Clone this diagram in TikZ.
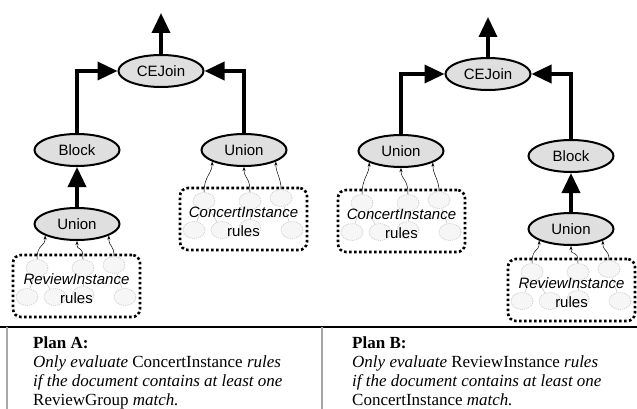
\documentclass[tikz,border=0pt]{standalone}
\usepackage{fontspec}
\setmainfont{Liberation Serif}
\setsansfont{Liberation Sans}
\usepackage{tikz}
\usetikzlibrary{positioning, shapes.geometric, arrows.meta}
\tikzset{
    op/.style={ellipse, draw=black, fill=gray!25, line width=2pt, minimum width=85pt, minimum height=32pt, inner sep=0pt, font=\sffamily\fontsize{15}{18}\selectfont},
    rulesframe/.style={rectangle, draw=black, rounded corners=8pt, line width=2.6pt, dash pattern=on 2.6pt off 2.4pt, minimum width=127pt, minimum height=62pt},
    rulenode/.style={ellipse, draw=gray!45, fill=gray!7, line width=0.6pt, dash pattern=on 1pt off 1pt, minimum width=22pt, minimum height=17pt, inner sep=0pt},
    ruleedge/.style={draw=gray!45, line width=0.6pt},
    rulelabel/.style={font=\sffamily\fontsize{15}{18}\selectfont, inner sep=0pt},
    flow/.style={line width=3.5pt, -{Triangle[length=20pt,width=18pt]}},
    feed/.style={line width=0.5pt, -{Stealth[length=4pt,width=3pt]}},
    plantext/.style={align=left, inner sep=0pt, font=\fontsize{17}{19}\selectfont},
    divider/.style={draw=gray!70, line width=1.5pt},
}
% one dotted group of rules: name, left, top, label
\newcommand{\rulegroup}[4]{%
    \begin{scope}[shift={(#2,#3)}]
        \node [rulesframe] (#1) at (63.5,31) {};
        \node [rulenode] (#1t1) at (24,13) {};
        \node [rulenode] (#1t2) at (70,13) {};
        \node [rulenode] (#1t3) at (101,10) {};
        \node [rulenode] (#1b1) at (14,42) {};
        \node [rulenode] (#1b2) at (42,42) {};
        \node [rulenode] (#1b3) at (70,40) {};
        \node [rulenode] (#1b4) at (112,42) {};
        \draw[ruleedge] (#1t1) -- (#1b1);
        \draw[ruleedge] (#1t1) -- (#1b2);
        \draw[ruleedge] (#1t2) -- (#1b3);
        \draw[ruleedge] (#1t3) -- (#1b4);
        \node [rulelabel] (#1name) at (63.5,24) {\itshape #4};
        \node [rulelabel] (#1rules) at (63.5,43) {rules};
    \end{scope}}

\begin{document}
\begin{tikzpicture}[x=1pt, y=-1pt]
    \useasboundingbox (0,0) rectangle (637,409);

    % Plan A
    \node [op] (joinA) at (161,71) {CEJoin};
    \node [op] (blockA) at (77,150) {Block};
    \node [op] (cunionA) at (244,150) {Union};
    \node [op] (runionA) at (77,224) {Union};
    \coordinate (outA) at (161,13);
    \rulegroup{crulesA}{180}{188}{ConcertInstance}
    \rulegroup{rrulesA}{13}{255}{ReviewInstance}
    \draw[flow] (joinA.north) -- (outA);
    \draw[flow] (blockA.north) |- (joinA.west);
    \draw[flow] (cunionA.north) |- (joinA.east);
    \draw[flow] (runionA.north) -- (blockA.south);
    \draw[feed] (crulesAt1.north) .. controls +(0,-16) and +(0,12) .. (cunionA.200);
    \draw[feed] (crulesAt2.north) .. controls +(0,-16) and +(0,12) .. (cunionA.south);
    \draw[feed] (crulesAt3.north) .. controls +(0,-12) and +(0,12) .. (cunionA.340);
    \draw[feed] (rrulesAt1.north) .. controls +(0,-16) and +(0,12) .. (runionA.200);
    \draw[feed] (rrulesAt2.north) .. controls +(0,-16) and +(0,12) .. (runionA.south);
    \draw[feed] (rrulesAt3.north) .. controls +(0,-12) and +(0,12) .. (runionA.340);

    % Plan B
    \node [op] (joinB) at (488,74) {CEJoin};
    \node [op] (cunionB) at (401,151) {Union};
    \node [op] (blockB) at (571,156) {Block};
    \node [op] (runionB) at (571,229) {Union};
    \coordinate (outB) at (488,17);
    \rulegroup{crulesB}{338}{190}{ConcertInstance}
    \rulegroup{rrulesB}{508}{259}{ReviewInstance}
    \draw[flow] (joinB.north) -- (outB);
    \draw[flow] (cunionB.north) |- (joinB.west);
    \draw[flow] (blockB.north) |- (joinB.east);
    \draw[flow] (runionB.north) -- (blockB.south);
    \draw[feed] (crulesBt1.north) .. controls +(0,-16) and +(0,12) .. (cunionB.200);
    \draw[feed] (crulesBt2.north) .. controls +(0,-16) and +(0,12) .. (cunionB.south);
    \draw[feed] (crulesBt3.north) .. controls +(0,-12) and +(0,12) .. (cunionB.340);
    \draw[feed] (rrulesBt1.north) .. controls +(0,-16) and +(0,12) .. (runionB.200);
    \draw[feed] (rrulesBt2.north) .. controls +(0,-16) and +(0,12) .. (runionB.south);
    \draw[feed] (rrulesBt3.north) .. controls +(0,-12) and +(0,12) .. (runionB.340);

    % captions
    \draw[line width=1.2pt] (0,327) -- (637,327);
    \draw[divider] (7,327) -- (7,409);
    \draw[divider] (322,327) -- (322,409);
    \node [plantext, anchor=base west] (planA) at (33,405) {\textbf{Plan A:}\\
        \textit{Only evaluate} ConcertInstance \textit{rules}\\
        \textit{if the document contains at least one}\\
        ReviewGroup \textit{match.}};
    \node [plantext, anchor=base west] (planB) at (352,405) {\textbf{Plan B:}\\
        \textit{Only evaluate} ReviewInstance \textit{rules}\\
        \textit{if the document contains at least one}\\
        ConcertInstance \textit{match.}};
\end{tikzpicture}
\end{document}
